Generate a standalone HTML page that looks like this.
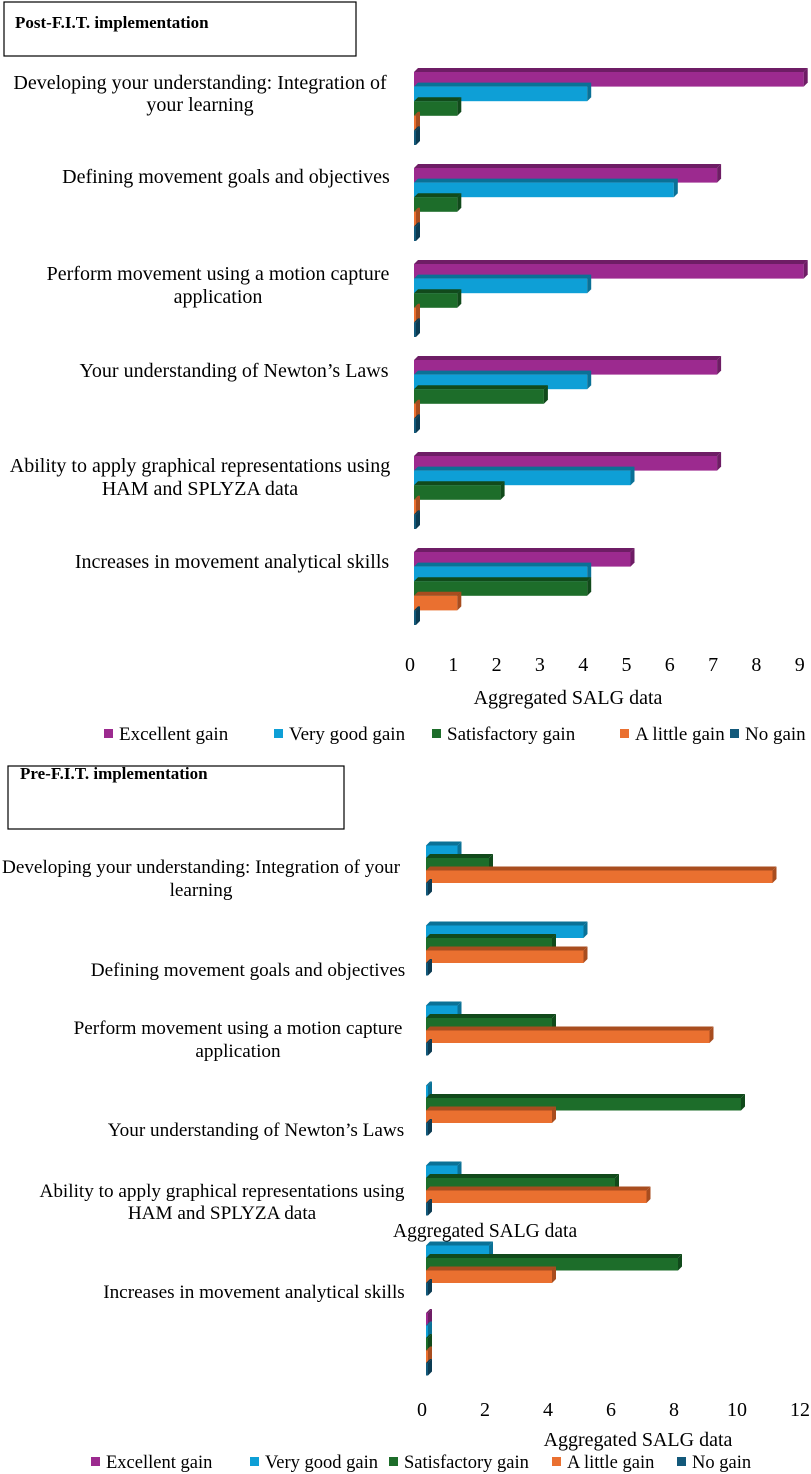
<!DOCTYPE html>
<html><head><meta charset="utf-8"><style>
body{margin:0;background:#fff;}
svg{display:block;font-family:"Liberation Serif",serif;}
</style></head><body>
<svg id="chart" width="811" height="1474" viewBox="0 0 811 1474">
<rect x="4" y="2" width="352" height="54" fill="#fff" stroke="#000" stroke-width="1.2"/>
<text x="15" y="28" font-weight="bold" font-size="17">Post-F.I.T. implementation</text>
<rect x="8" y="766" width="336" height="63" fill="#fff" stroke="#000" stroke-width="1.2"/>
<text x="20" y="779" font-weight="bold" font-size="17">Pre-F.I.T. implementation</text>
<g font-size="20" text-anchor="middle">
<text x="200" y="89">Developing your understanding: Integration of</text><text x="200" y="111">your learning</text>
<text x="226" y="183">Defining movement goals and objectives</text>
<text x="218" y="280">Perform movement using a motion capture</text><text x="218" y="303">application</text>
<text x="234" y="377">Your understanding of Newton’s Laws</text>
<text x="200" y="472">Ability to apply graphical representations using</text><text x="200" y="495">HAM and SPLYZA data</text>
<text x="232" y="568">Increases in movement analytical skills</text>
</g>
<g font-size="19.2" text-anchor="middle">
<text x="201" y="873">Developing your understanding: Integration of your</text><text x="201" y="896">learning</text>
<text x="248" y="976">Defining movement goals and objectives</text>
<text x="238" y="1034">Perform  movement using a motion capture</text><text x="238" y="1057">application</text>
<text x="256" y="1136">Your understanding of Newton’s Laws</text>
<text x="222" y="1197">Ability to apply graphical representations using</text><text x="222" y="1219">HAM and SPLYZA data</text>
<text x="254" y="1298">Increases in movement analytical skills</text>
</g>
<text x="393" y="1237" font-size="19.5">Aggregated SALG data</text>
<text x="568" y="704" font-size="20" text-anchor="middle">Aggregated SALG data</text>
<text x="638" y="1446" font-size="20" text-anchor="middle">Aggregated SALG data</text>
<g id="g"></g>
</svg>
<script>
const seriesNames=["Excellent gain","Very good gain","Satisfactory gain","A little gain","No gain"];
const postExcellent=[9,7,9,7,7,5];
const postVeryGood=[4,6,4,4,5,4];
const postSatisfactory=[1,1,1,3,2,4];
const postLittle=[0,0,0,0,0,1];
const postNone=[0,0,0,0,0,0];
const postTicks=[0,1,2,3,4,5,6,7,8,9];
const preExcellent=[null,null,null,null,null,null,0];
const preVeryGood=[1,5,1,0,1,2,0];
const preSatisfactory=[2,4,4,10,6,8,0];
const preLittle=[11,5,9,4,7,4,0];
const preNone=[0,0,0,0,0,0,0];
const preTicks=[0,2,4,6,8,10,12];
const colors=["#9c2a8f","#0e9fd6","#1d6d2a","#ea7030","#13597a"];
const sides=["#6e1d65","#0a7196","#114a1b","#a84d1f","#0c3b52"];
const NS="http://www.w3.org/2000/svg";
const root=document.getElementById('g');
function mk(t,a){const e=document.createElementNS(NS,t);for(const k in a)e.setAttribute(k,a[k]);root.appendChild(e);return e;}
function drawChart(series,x0,scale,y0,pitch,barH,prefix){
  series.forEach((vals,s)=>{vals.forEach((v,i)=>{
    if(v===null)return;
    const y=y0+i*pitch+s*barH, x=x0, w=Math.max(v*scale,2), d=4;
    const top=mk('polygon',{points:`${x},${y} ${x+d},${y-d} ${x+w+d},${y-d} ${x+w},${y}`,fill:sides[s]});
    
    
    const r=mk('rect',{x:x,y:y,width:w,height:barH,fill:colors[s]});
    
    
    const sd=mk('polygon',{points:`${x+w},${y} ${x+w+d},${y-d} ${x+w+d},${y+barH-d} ${x+w},${y+barH}`,fill:sides[s]});
    
    
  });});
}
drawChart([postExcellent,postVeryGood,postSatisfactory,postLittle,postNone],414,43.3,72,96,14.6,'post');
drawChart([preExcellent,preVeryGood,preSatisfactory,preLittle,preNone],426,31.5,833,80,12.5,'pre');
postTicks.forEach(t=>{const e=mk('text',{x:410+t*43.3,y:671,'font-size':20,'text-anchor':'middle'});e.textContent=t;

});
preTicks.forEach(t=>{const e=mk('text',{x:422+t*31.5,y:1416,'font-size':20,'text-anchor':'middle'});e.textContent=t;

});
function legend(y,xs,fs){seriesNames.forEach((n,i)=>{
  const sq=mk('rect',{x:xs[i],y:y-11,width:9,height:9,fill:colors[i]});
  
  
  const t=mk('text',{x:xs[i]+15,y:y,'font-size':fs});t.textContent=n;
  
  
});}
legend(740,[104,274,432,620,730],19);
legend(1468,[91,250,389,552,677],18.5);
</script>
</body></html>
